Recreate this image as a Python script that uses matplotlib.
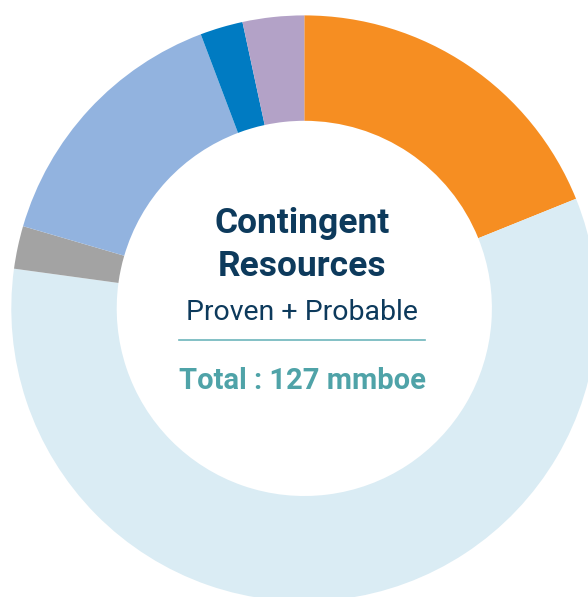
import matplotlib
matplotlib.use("Agg")
import matplotlib.pyplot as plt

categories = ["Orange", "Light blue", "Gray", "Mid blue", "Dark blue", "Purple"]
values = [24.0, 74.0, 3.0, 18.7, 3.0, 4.3]
colors = ["#F68E22", "#DAECF4", "#A3A3A3", "#92B3DF", "#007BC2", "#B3A2C7"]

title_lines = ["Contingent", "Resources"]
subtitle = "Proven + Probable"
total_label = "Total : 127 mmboe"

W, H = 588, 597
fig = plt.figure(figsize=(W / 100, H / 100), dpi=100)
ax = fig.add_axes([0, 0, 1, 1])
ax.set_xlim(0, W)
ax.set_ylim(0, H)
ax.set_aspect("equal")
ax.axis("off")

cx, cy = 304.3, H - 308.4
R, r = 293, 187.6
ax.pie(values, colors=colors, startangle=90, counterclock=False,
       center=(cx, cy), radius=R, frame=True,
       wedgeprops=dict(width=R - r, linewidth=0))
ax.set_xlim(0, W)
ax.set_ylim(0, H)
ax.axis("off")

navy = "#0D3A5C"
teal = "#4FA3A8"
ax.text(cx - 2, H - 224, title_lines[0], ha="center", va="center", fontsize=25.5,
        fontweight="bold", color=navy, family="Roboto")
ax.text(cx - 2, H - 267, title_lines[1], ha="center", va="center", fontsize=25.5,
        fontweight="bold", color=navy, family="Roboto")
ax.text(cx - 2, H - 312, subtitle, ha="center", va="center", fontsize=20.5,
        color=navy, family="Roboto")
ax.plot([179, 425], [H - 340, H - 340], color="#6DB5BB", lw=1.2)
ax.text(cx - 2, H - 381, total_label, ha="center", va="center", fontsize=21,
        fontweight="bold", color=teal, family="Roboto")

fig.savefig("out.png", dpi=100)
